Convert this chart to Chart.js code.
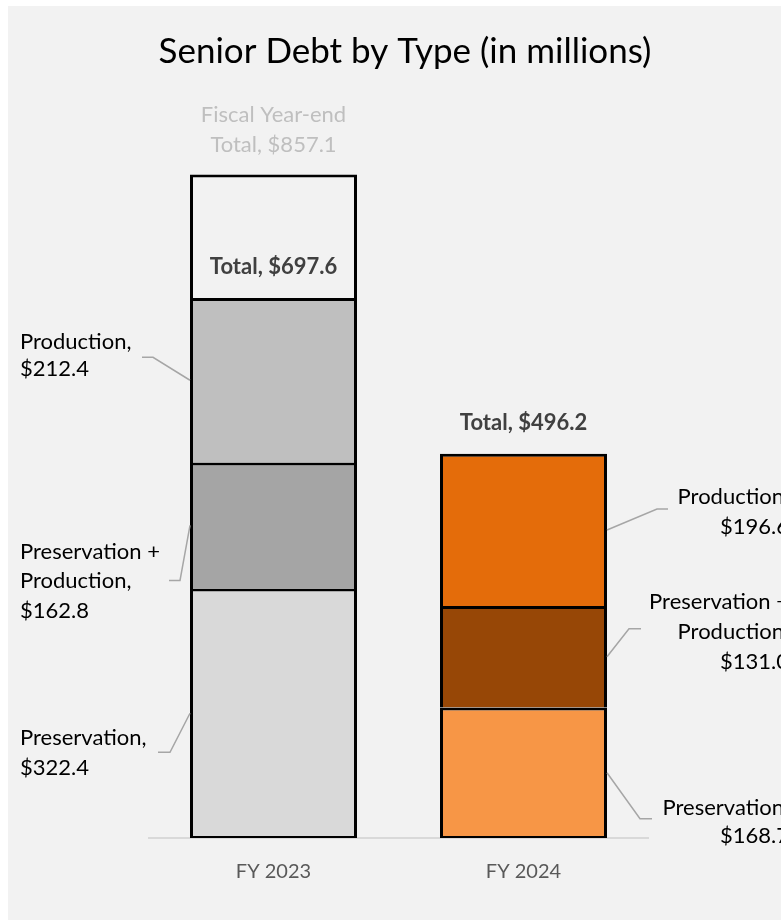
<!DOCTYPE html>
<html>
<head>
<meta charset="utf-8">
<script src="https://cdn.jsdelivr.net/npm/chart.js@4.4.1/dist/chart.umd.min.js"></script>
<style>
  html, body { margin: 0; padding: 0; background: #fff; }
  canvas { display: block; }
</style>
</head>
<body>
<canvas id="seniorDebtChart" width="781" height="923"></canvas>
<script>
const years = ["FY 2023", "FY 2024"];
const preservation = [322.4, 168.7];
const presAndProd = [162.8, 131.0];
const production = [212.4, 196.6];
const totals = [697.6, 496.2];
const fiscalYearEndTotal = [857.1, null];

const FONT = "Lato, 'Open Sans', sans-serif";
const money = v => "$" + v.toFixed(1);

// where each callout sits, relative to the middle of its segment at the bar edge
const callouts = {
  0: [ // FY 2023, labels on the left
    { ds: 2, name: ["Production,"], elbow: [-37, -23], tail: 11, lines: [-15, 12] },
    { ds: 1, name: ["Preservation +", "Production,"], elbow: [-10, 55], tail: 11, lines: [-29, 0, 30] },
    { ds: 0, name: ["Preservation,"], elbow: [-20, 39], tail: 12, lines: [-14, 16] }
  ],
  1: [ // FY 2024, labels on the right
    { ds: 2, name: ["Production,"], elbow: [50, -21], tail: 11, lines: [-12, 18] },
    { ds: 1, name: ["Preservation +", "Production,"], elbow: [22, -28], tail: 12, lines: [-27, 3, 33] },
    { ds: 0, name: ["Preservation,"], elbow: [33, 46], tail: 12, lines: [-11, 17] }
  ]
};

const panelPlugin = {
  id: "panel",
  beforeDraw(chart) {
    const ctx = chart.ctx;
    ctx.save();
    ctx.fillStyle = "#fff";
    ctx.fillRect(0, 0, chart.width, chart.height);
    ctx.fillStyle = "#f2f2f2";
    ctx.fillRect(8, 6, chart.width - 8, 914);
    ctx.fillStyle = "#000";
    ctx.font = "35px " + FONT;
    ctx.textAlign = "center";
    ctx.textBaseline = "middle";
    ctx.fillText("Senior Debt by Type (in millions)", 405, 52);
    ctx.restore();
  }
};

const labelPlugin = {
  id: "calloutLabels",
  afterDatasetsDraw(chart) {
    const ctx = chart.ctx;
    ctx.save();
    ctx.textBaseline = "middle";

    // callouts for the segments
    Object.keys(callouts).forEach(k => {
      const i = Number(k);
      callouts[k].forEach(c => {
        const bar = chart.getDatasetMeta(c.ds).data[i];
        const left = i === 0;
        const edge = left ? bar.x - bar.width / 2 : bar.x + bar.width / 2;
        const midY = (bar.y + bar.base) / 2;
        const ex = edge + c.elbow[0];
        const ey = midY + c.elbow[1];
        ctx.strokeStyle = "#a6a6a6";
        ctx.lineWidth = 1.5;
        ctx.beginPath();
        ctx.moveTo(edge, midY);
        ctx.lineTo(ex, ey);
        ctx.lineTo(left ? ex - c.tail : ex + c.tail, ey);
        ctx.stroke();

        const value = chart.data.datasets[c.ds].data[i];
        const text = c.name.concat([money(value)]);
        ctx.fillStyle = "#000";
        ctx.font = "22px " + FONT;
        ctx.textAlign = left ? "left" : "right";
        const tx = left ? 20 : 789;
        text.forEach((t, j) => ctx.fillText(t, tx, ey + c.lines[j]));
      });
    });

    // totals above the stacks
    const top = chart.getDatasetMeta(2);
    ctx.textAlign = "center";
    ctx.fillStyle = "#404040";
    ctx.font = "bold 22px " + FONT;
    totals.forEach((t, i) => {
      const bar = top.data[i];
      ctx.fillText("Total, " + money(t), bar.x, bar.y - 31);
    });

    // fiscal year-end total
    const fy = chart.getDatasetMeta(3);
    ctx.fillStyle = "#bfbfbf";
    ctx.font = "22px " + FONT;
    fiscalYearEndTotal.forEach((v, i) => {
      if (v == null) return;
      const bar = fy.data[i];
      ctx.fillText("Fiscal Year-end", bar.x, bar.y - 60);
      ctx.fillText("Total, " + money(v), bar.x, bar.y - 30);
    });
    ctx.restore();
  }
};

const segBorder = { top: 3, left: 3, right: 3, bottom: 0 };

new Chart(document.getElementById("seniorDebtChart").getContext("2d"), {
  type: "bar",
  data: {
    labels: years,
    datasets: [
      {
        label: "Preservation",
        data: preservation,
        stack: "debt",
        backgroundColor: ["#d9d9d9", "#f79646"],
        borderWidth: { top: 3, left: 3, right: 3, bottom: 2 }
      },
      {
        label: "Preservation + Production",
        data: presAndProd,
        stack: "debt",
        backgroundColor: ["#a5a5a5", "#974706"],
        borderWidth: segBorder
      },
      {
        label: "Production",
        data: production,
        stack: "debt",
        backgroundColor: ["#bfbfbf", "#e46c0a"],
        borderWidth: segBorder
      },
      {
        label: "Fiscal Year-end Total",
        data: fiscalYearEndTotal,
        stack: "fyend",
        backgroundColor: "#f2f2f2",
        borderWidth: segBorder
      }
    ]
  },
  options: {
    responsive: false,
    animation: false,
    devicePixelRatio: 1,
    datasets: {
      bar: {
        grouped: false,
        categoryPercentage: 1,
        barPercentage: 0.668,
        borderColor: "#000",
        borderSkipped: false
      }
    },
    layout: { padding: { left: 148.5, right: 132.5, top: 64, bottom: 0 } },
    plugins: {
      legend: { display: false },
      tooltip: { enabled: false }
    },
    scales: {
      x: {
        stacked: true,
        grid: { display: false, drawTicks: false },
        border: { display: true, color: "#d9d9d9", width: 2 },
        ticks: { color: "#595959", font: { family: FONT, size: 20 }, padding: 22 },
        afterFit(scale) { scale.height = 85; }
      },
      y: {
        stacked: true,
        display: false,
        min: 0,
        max: 1000
      }
    }
  },
  plugins: [panelPlugin, labelPlugin]
});
</script>
</body>
</html>
